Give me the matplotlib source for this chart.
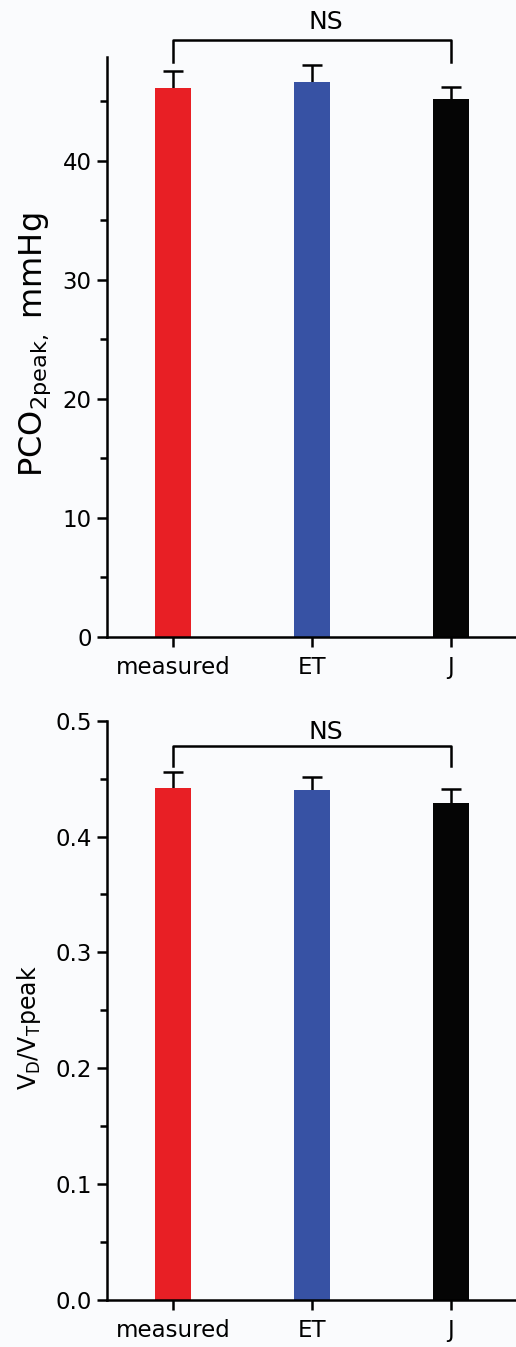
#libraries
import numpy as np
import matplotlib.pyplot as plt
from matplotlib.ticker import MultipleLocator, FormatStrFormatter

#data
groups = ["measured", "ET", "J"]
bar_colors = ["#e81f25", "#3752a4", "#050505"]

pco2_mean = [46.1, 46.6, 45.2]
pco2_err = [1.4, 1.4, 1.0]

vdvt_mean = [0.442, 0.440, 0.429]
vdvt_err = [0.014, 0.011, 0.012]

bg = "#fafbfd"
lw = 1.8

fig = plt.figure(figsize=(5.16, 13.47), dpi=100, facecolor=bg)

ax1 = fig.add_axes([0.2074, 0.5273, 0.7926, 0.4304])
ax2 = fig.add_axes([0.2074, 0.0349, 0.7926, 0.4301])

x = np.arange(len(groups))


def bar_panel(ax, means, errs, ylim, major, minor, fmt, ylabel, label_xy, label_size,
              bracket_top, bracket_leg, ns_y):
    ax.set_facecolor(bg)
    ax.bar(x, means, width=0.26, color=bar_colors, zorder=2)
    # symmetric bars drawn behind the columns so only the upper half shows
    ax.errorbar(x, means, yerr=errs, fmt="none",
                ecolor="black", elinewidth=lw, capsize=7, capthick=lw, zorder=1)

    ax.set_xlim(-0.475, 2.468)
    ax.set_ylim(*ylim)
    ax.yaxis.set_major_locator(MultipleLocator(major))
    ax.yaxis.set_minor_locator(MultipleLocator(minor))
    ax.yaxis.set_major_formatter(FormatStrFormatter(fmt))
    ax.set_xticks(x)
    ax.set_xticklabels(groups)

    for s in ["top", "right"]:
        ax.spines[s].set_visible(False)
    for s in ["left", "bottom"]:
        ax.spines[s].set_linewidth(lw)
        ax.spines[s].set_zorder(3)

    ax.tick_params(axis="y", which="major", length=7, width=lw, labelsize=16.5, pad=4)
    ax.tick_params(axis="y", which="minor", length=5, width=lw)
    ax.tick_params(axis="x", length=7, width=lw, labelsize=16.5, pad=7)

    ax.set_ylabel(ylabel, fontsize=label_size, va="center")
    ax.yaxis.set_label_coords(*label_xy)

    # significance bracket
    x0, x2 = x[0], x[-1]
    ax.plot([x0, x0, x2, x2], [bracket_leg, bracket_top, bracket_top, bracket_leg],
            color="black", lw=lw, clip_on=False)
    ax.text((x0 + x2) / 2 + 0.1, ns_y, "NS", ha="center", va="center",
            fontsize=18, clip_on=False)


bar_panel(ax1, pco2_mean, pco2_err, (0, 48.7), 10, 5, "%d",
          r"PCO$_{\mathregular{2peak,}}$ mmHg", (-0.176, 0.503), 23,
          50.1, 48.3, 51.6)

bar_panel(ax2, vdvt_mean, vdvt_err, (0, 0.5), 0.1, 0.05, "%.1f",
          r"V$_{\mathregular{D}}$/V$_{\mathregular{T}}$peak", (-0.191, 0.47), 17,
          0.478, 0.461, 0.490)

plt.savefig("out.png", dpi=100, facecolor=bg)
